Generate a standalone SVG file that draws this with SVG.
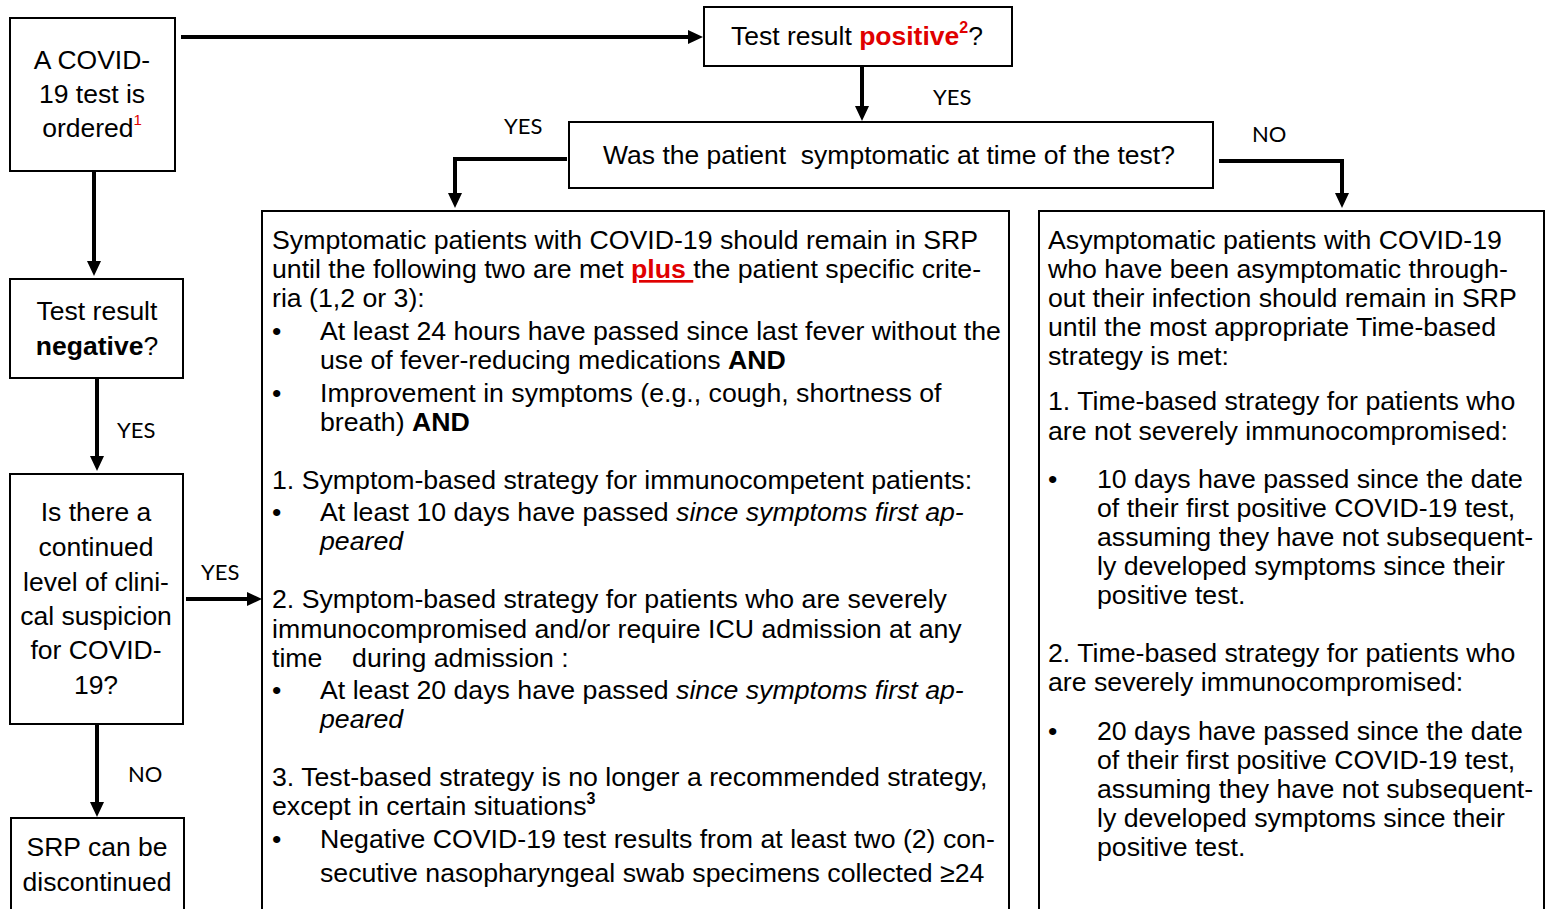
<svg xmlns="http://www.w3.org/2000/svg" width="1546" height="909" viewBox="0 0 1546 909">
<style>
.box{fill:#fff;stroke:#000;stroke-width:2}
.t{font-family:"Liberation Sans",Arial,sans-serif;font-size:26.5px;fill:#000}
.b{font-size:26.7px}
.c{text-anchor:middle}
.lbl{font-family:Lato,"Open Sans",sans-serif;font-size:22px;fill:#000}
.con{fill:none;stroke:#000;stroke-width:4}
.red{fill:#e00000}
.bold{font-weight:bold}
.it{font-style:italic}
</style>
<defs>
<marker id="ah" markerUnits="userSpaceOnUse" markerWidth="16" markerHeight="16" refX="1" refY="7" orient="auto">
<path d="M0,0 L15,7 L0,14 z" fill="#000"/>
</marker>
</defs>
<rect width="1546" height="909" fill="#fff"/>

<g id="connectors">
<path class="con" d="M181,37 H689" marker-end="url(#ah)"/>
<path class="con" d="M862,66 V107" marker-end="url(#ah)"/>
<path class="con" d="M567,159 H455 V194" marker-end="url(#ah)"/>
<path class="con" d="M1219,161 H1342 V194" marker-end="url(#ah)"/>
<path class="con" d="M94,171 V262" marker-end="url(#ah)"/>
<path class="con" d="M97,378 V457" marker-end="url(#ah)"/>
<path class="con" d="M186,599 H248" marker-end="url(#ah)"/>
<path class="con" d="M97,724 V803" marker-end="url(#ah)"/>
<text class="lbl" x="933" y="105">YES</text>
<text class="lbl" x="504" y="134">YES</text>
<text class="lbl" x="1252" y="142">NO</text>
<text class="lbl" x="117" y="438">YES</text>
<text class="lbl" x="201" y="580">YES</text>
<text class="lbl" x="128" y="782">NO</text>
</g>

<g id="ordered">
<rect class="box" x="10" y="18" width="165" height="153"/>
<text class="t c" x="92" y="69">A COVID-</text>
<text class="t c" x="92" y="103">19 test is</text>
<text class="t c" x="92" y="137">ordered<tspan class="red" font-size="15" dy="-12">1</tspan></text>
</g>

<g id="positive">
<rect class="box" x="704" y="7" width="308" height="59"/>
<text class="t" x="731" y="45">Test result <tspan class="red bold">positive</tspan><tspan class="red bold" font-size="16" dy="-12">2</tspan><tspan dy="12">?</tspan></text>
</g>

<g id="symptomatic-question">
<rect class="box" x="569" y="122" width="644" height="66"/>
<text class="t" x="603" y="164" font-size="27.2" xml:space="preserve">Was the patient  symptomatic at time of the test?</text>
</g>

<g id="symptomatic">
<rect class="box" x="262" y="211" width="747" height="720"/>
<g class="t b">
<text x="272" y="249">Symptomatic patients with COVID-19 should remain in SRP</text>
<text x="272" y="278" xml:space="preserve">until the following two are met <tspan class="red bold" text-decoration="underline">plus </tspan>the patient specific crite-</text>
<text x="272" y="307">ria (1,2 or 3):</text>
<text x="272" y="340">•</text>
<text x="320" y="340">At least 24 hours have passed since last fever without the</text>
<text x="320" y="369">use of fever-reducing medications <tspan class="bold">AND</tspan></text>
<text x="272" y="402">•</text>
<text x="320" y="402">Improvement in symptoms (e.g., cough, shortness of</text>
<text x="320" y="431">breath) <tspan class="bold">AND</tspan></text>
<text x="272" y="489">1. Symptom-based strategy for immunocompetent patients:</text>
<text x="272" y="521">•</text>
<text x="320" y="521">At least 10 days have passed <tspan class="it">since symptoms first ap-</tspan></text>
<text x="320" y="550" class="it">peared</text>
<text x="272" y="608">2. Symptom-based strategy for patients who are severely</text>
<text x="272" y="638">immunocompromised and/or require ICU admission at any</text>
<text x="272" y="667" xml:space="preserve">time    during admission :</text>
<text x="272" y="699">•</text>
<text x="320" y="699">At least 20 days have passed <tspan class="it">since symptoms first ap-</tspan></text>
<text x="320" y="728" class="it">peared</text>
<text x="272" y="786">3. Test-based strategy is no longer a recommended strategy,</text>
<text x="272" y="815">except in certain situations<tspan class="bold" font-size="16" dy="-11">3</tspan></text>
<text x="272" y="848">•</text>
<text x="320" y="848">Negative COVID-19 test results from at least two (2) con-</text>
<text x="320" y="882">secutive nasopharyngeal swab specimens collected ≥24</text>
</g>
</g>

<g id="asymptomatic">
<rect class="box" x="1039" y="211" width="505" height="720"/>
<g class="t b">
<text x="1048" y="249">Asymptomatic patients with COVID-19</text>
<text x="1048" y="278">who have been asymptomatic through-</text>
<text x="1048" y="307">out their infection should remain in SRP</text>
<text x="1048" y="336">until the most appropriate Time-based</text>
<text x="1048" y="365">strategy is met:</text>
<text x="1048" y="410">1. Time-based strategy for patients who</text>
<text x="1048" y="440">are not severely immunocompromised:</text>
<text x="1048" y="488">•</text>
<text x="1097" y="488">10 days have passed since the date</text>
<text x="1097" y="517">of their first positive COVID-19 test,</text>
<text x="1097" y="546">assuming they have not subsequent-</text>
<text x="1097" y="575">ly developed symptoms since their</text>
<text x="1097" y="604">positive test.</text>
<text x="1048" y="662">2. Time-based strategy for patients who</text>
<text x="1048" y="691">are severely immunocompromised:</text>
<text x="1048" y="740">•</text>
<text x="1097" y="740">20 days have passed since the date</text>
<text x="1097" y="769">of their first positive COVID-19 test,</text>
<text x="1097" y="798">assuming they have not subsequent-</text>
<text x="1097" y="827">ly developed symptoms since their</text>
<text x="1097" y="856">positive test.</text>
</g>
</g>

<g id="negative">
<rect class="box" x="10" y="279" width="173" height="99"/>
<text class="t c" x="97" y="320">Test result</text>
<text class="t c" x="97" y="355"><tspan class="bold">negative</tspan>?</text>
</g>

<g id="suspicion">
<rect class="box" x="10" y="474" width="173" height="250"/>
<text class="t c" x="96" y="521">Is there a</text>
<text class="t c" x="96" y="556">continued</text>
<text class="t c" x="96" y="591">level of clini-</text>
<text class="t c" x="96" y="625">cal suspicion</text>
<text class="t c" x="96" y="659">for COVID-</text>
<text class="t c" x="96" y="694">19?</text>
</g>

<g id="discontinued">
<rect class="box" x="11" y="818" width="173" height="110"/>
<text class="t c" x="97" y="856">SRP can be</text>
<text class="t c" x="97" y="891">discontinued</text>
</g>
</svg>
